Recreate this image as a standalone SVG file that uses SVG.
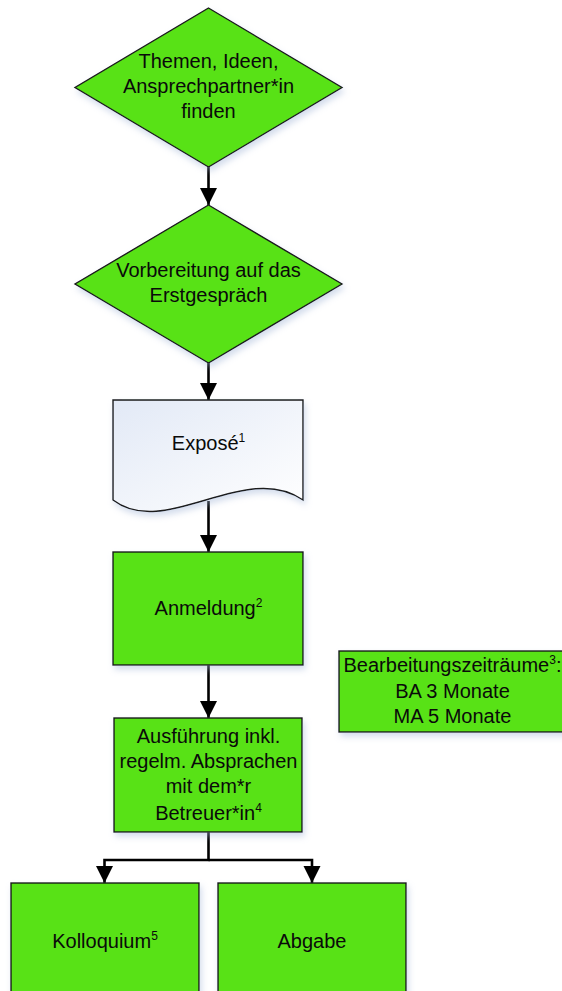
<svg xmlns="http://www.w3.org/2000/svg" width="562" height="991" viewBox="0 0 562 991">
  <defs>
    <style>
      .node { fill: #58E217; stroke: #1a1a1a; stroke-width: 1.4; filter: url(#shadow); }
      .doc { fill: url(#docgrad); stroke: #1a1a1a; stroke-width: 1.4; filter: url(#shadow); }
      .lbl { font-family: "Liberation Sans", Arial, sans-serif; font-size: 20px; fill: #0a0a0a; text-anchor: middle; }
      .sup { font-size: 12px; }
      .conn { fill: none; stroke: #000; stroke-width: 2.6; }
    </style>
    <filter id="shadow" x="-10%" y="-10%" width="130%" height="130%">
      <feDropShadow dx="2" dy="4" stdDeviation="3" flood-color="#9FB3D6" flood-opacity="0.45"/>
    </filter>
    <linearGradient id="docgrad" x1="0" y1="0" x2="1" y2="1">
      <stop offset="0" stop-color="#E2E9F6"/>
      <stop offset="1" stop-color="#FFFFFF"/>
    </linearGradient>
    <marker id="arrow" markerUnits="userSpaceOnUse" markerWidth="18" markerHeight="18" refX="17" refY="8.5" orient="auto">
      <path d="M0,0 L17,8.5 L0,17 Z" fill="#000"/>
    </marker>
  </defs>

  <g id="connectors">
    <path class="conn" d="M208.5,167 V205" marker-end="url(#arrow)"/>
    <path class="conn" d="M208.5,363 V400" marker-end="url(#arrow)"/>
    <path class="conn" d="M208.5,501 V552" marker-end="url(#arrow)"/>
    <path class="conn" d="M208.5,665 V718" marker-end="url(#arrow)"/>
    <path class="conn" d="M208.5,832 V860 H104.5 V883" marker-end="url(#arrow)"/>
    <path class="conn" d="M208.5,860 H312 V883" marker-end="url(#arrow)"/>
  </g>

  <g id="themen">
    <polygon class="node" points="208.5,8 342,87.5 208.5,167 75,87.5"/>
    <text class="lbl" x="208.5" y="68">Themen, Ideen,</text>
    <text class="lbl" x="208.5" y="93">Ansprechpartner*in</text>
    <text class="lbl" x="208.5" y="118">finden</text>
  </g>

  <g id="vorbereitung">
    <polygon class="node" points="208.5,205 342,284 208.5,363 75,284"/>
    <text class="lbl" x="208.5" y="277">Vorbereitung auf das</text>
    <text class="lbl" x="208.5" y="302">Erstgespräch</text>
  </g>

  <g id="expose">
    <path class="doc" d="M113,400 H303 V500 C245,460 165,540 113,500 Z"/>
    <text class="lbl" x="208.5" y="450">Exposé<tspan class="sup" dy="-8">1</tspan></text>
  </g>

  <g id="anmeldung">
    <rect class="node" x="113" y="552" width="190" height="113"/>
    <text class="lbl" x="208.5" y="615">Anmeldung<tspan class="sup" dy="-8">2</tspan></text>
  </g>

  <g id="bearbeitungszeitraeume">
    <rect class="node" x="339" y="651" width="232" height="81"/>
    <text class="lbl" x="452.5" y="672">Bearbeitungszeiträume<tspan class="sup" dy="-8">3</tspan><tspan dy="8">:</tspan></text>
    <text class="lbl" x="452.5" y="698">BA 3 Monate</text>
    <text class="lbl" x="452.5" y="723">MA 5 Monate</text>
  </g>

  <g id="ausfuehrung">
    <rect class="node" x="114" y="718" width="188" height="114"/>
    <text class="lbl" x="208.5" y="743">Ausführung inkl.</text>
    <text class="lbl" x="208.5" y="768">regelm. Absprachen</text>
    <text class="lbl" x="208.5" y="793">mit dem*r</text>
    <text class="lbl" x="208.5" y="820">Betreuer*in<tspan class="sup" dy="-8">4</tspan></text>
  </g>

  <g id="kolloquium">
    <rect class="node" x="11" y="883" width="188" height="120"/>
    <text class="lbl" x="105" y="948">Kolloquium<tspan class="sup" dy="-8">5</tspan></text>
  </g>

  <g id="abgabe">
    <rect class="node" x="218" y="883" width="188" height="120"/>
    <text class="lbl" x="312" y="948">Abgabe</text>
  </g>
</svg>
